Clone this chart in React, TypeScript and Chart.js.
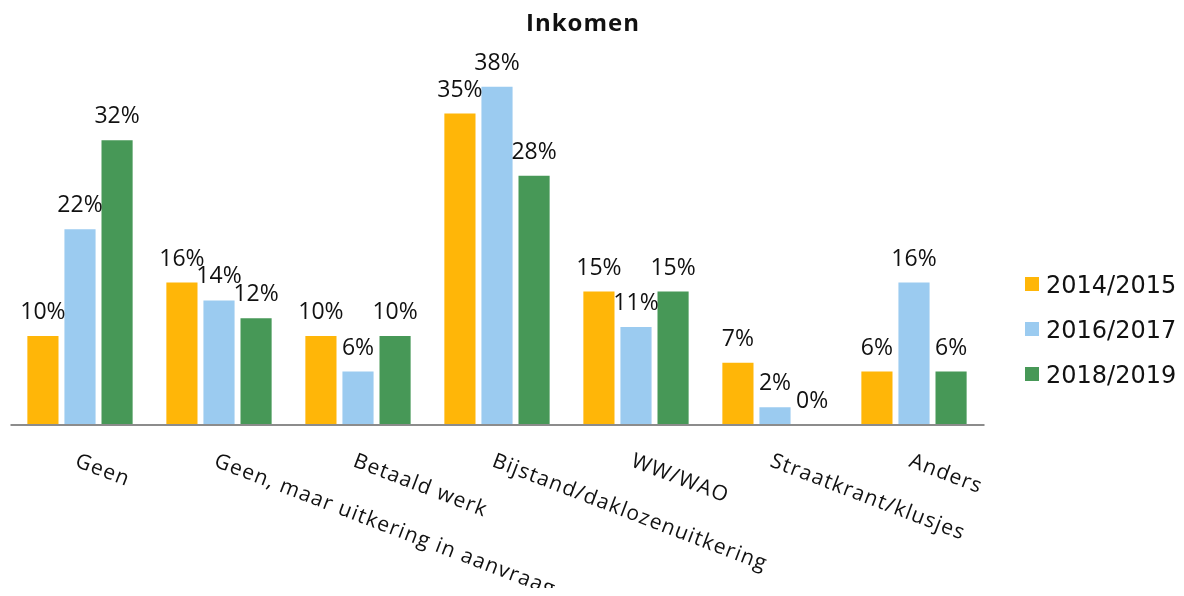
import React, { useEffect, useRef } from "react";
import { Chart, registerables } from "chart.js";

Chart.register(...registerables);

const categories = [
  "Geen",
  "Geen, maar uitkering in aanvraag",
  "Betaald werk",
  "Bijstand/daklozenuitkering",
  "WW/WAO",
  "Straatkrant/klusjes",
  "Anders",
];
const seriesNames = ["2014/2015", "2016/2017", "2018/2019"];
const values2014 = [10, 16, 10, 35, 15, 7, 6];
const values2016 = [22, 14, 6, 38, 11, 2, 16];
const values2018 = [32, 12, 10, 28, 15, 0, 6];
const seriesColors = ["#FFB608", "#9BCBF0", "#479857"];
const titleText = "Inkomen";

const overlayPlugin = {
  id: "overlay",
  afterDraw(chart: any) {
    const ctx = chart.ctx as CanvasRenderingContext2D;
    const xs = chart.scales.x;
    const ys = chart.scales.y;
    const area = chart.chartArea;
    ctx.save();

    // baseline
    const y0 = ys.getPixelForValue(0);
    ctx.strokeStyle = "#8C8C8C";
    ctx.lineWidth = 2;
    ctx.beginPath();
    ctx.moveTo(area.left, y0);
    ctx.lineTo(area.right + 1, y0);
    ctx.stroke();

    // data labels
    ctx.fillStyle = "#111";
    ctx.font = "23px 'Open Sans'";
    ctx.textAlign = "center";
    ctx.textBaseline = "alphabetic";
    chart.data.datasets.forEach((ds: any, di: number) => {
      const meta = chart.getDatasetMeta(di);
      meta.data.forEach((bar: any, i: number) => {
        ctx.fillText(ds.data[i] + "%", bar.x, bar.y - 17);
      });
    });

    // category labels
    ctx.font = "21px 'Open Sans'";
    (ctx as any).letterSpacing = "1.2px";
    ctx.textAlign = "left";
    chart.data.labels.forEach((lab: string, i: number) => {
      const cx = xs.getPixelForValue(i);
      ctx.save();
      ctx.translate(cx - 6, 458);
      ctx.rotate((21 * Math.PI) / 180);
      ctx.fillText(lab, 0, 0);
      ctx.restore();
    });

    // title
    ctx.font = "bold 24px 'Open Sans'";
    (ctx as any).letterSpacing = "1px";
    ctx.textAlign = "center";
    ctx.fillText(titleText, 575, 23);

    // legend
    (ctx as any).letterSpacing = "0px";
    ctx.font = "24px 'DejaVu Sans'";
    ctx.textAlign = "left";
    chart.data.datasets.forEach((ds: any, di: number) => {
      const top = 269 + di * 45;
      ctx.fillStyle = ds.backgroundColor;
      ctx.fillRect(1017, top, 14, 14);
      ctx.fillStyle = "#111";
      ctx.fillText(ds.label, 1038, top + 16);
    });

    ctx.restore();
  },
};

export default function App() {
  const canvasRef = useRef<HTMLCanvasElement | null>(null);

  useEffect(() => {
    if (!canvasRef.current) return;
    const chart = new Chart(canvasRef.current, {
      type: "bar",
      data: {
        labels: categories,
        datasets: [values2014, values2016, values2018].map((vals, i) => ({
          label: seriesNames[i],
          data: vals,
          backgroundColor: seriesColors[i],
          borderWidth: 0,
          categoryPercentage: 0.8,
          barPercentage: 0.84,
        })),
      },
      options: {
        animation: false,
        responsive: true,
        maintainAspectRatio: false,
        layout: { padding: { left: 2.5, right: 192.5, top: 61, bottom: 171 } },
        scales: {
          x: { display: false },
          y: { display: false, min: 0, max: 40 },
        },
        plugins: {
          legend: { display: false },
          title: { display: false },
          tooltip: { enabled: false },
        },
      },
      plugins: [overlayPlugin],
    });
    return () => chart.destroy();
  }, []);

  return (
    <div style={{ width: 1168, height: 588, marginBottom: -8, position: "relative" }}>
      <canvas ref={canvasRef} style={{ display: "block" }} />
    </div>
  );
}
